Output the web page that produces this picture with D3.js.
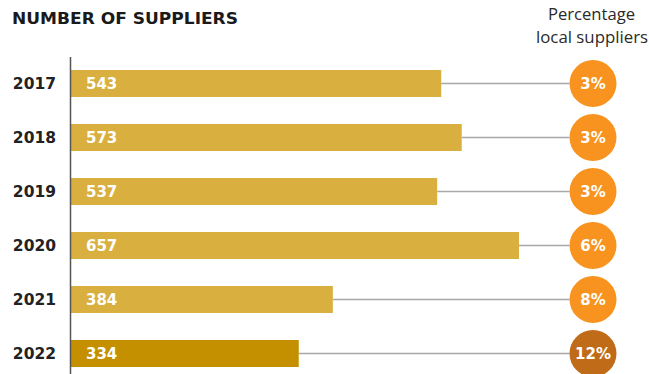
<!DOCTYPE html>
<html>
<head>
<meta charset="utf-8">
<script src="https://cdn.jsdelivr.net/npm/d3@7"></script>
<style>
  html, body { margin: 0; padding: 0; background: #fff; }
  svg { display: block; }
</style>
</head>
<body>
<svg id="chart" width="649" height="374"></svg>
<script>
// Supplier counts per year and share of local suppliers
const years = ["2017", "2018", "2019", "2020", "2021", "2022"];
const suppliers = [543, 573, 537, 657, 384, 334];
const localPct = [3, 3, 3, 6, 8, 12];

const svg = d3.select("#chart");
const boldFont = "'DejaVu Sans', sans-serif";
const plainFont = "'Open Sans', sans-serif";

const x0 = 71;
const x = d3.scaleLinear().domain([0, 657]).range([x0, 519]);
const y = d3.scaleBand().domain(years).range([56.5, 380.5]).paddingInner(0.5).paddingOuter(0.25);

const circleX = 593, radius = 23.5;

// Title and right-hand header
svg.append("text")
  .attr("x", 12).attr("y", 24)
  .attr("font-family", boldFont).attr("font-weight", 700)
  .attr("font-size", 15).attr("fill", "#1a1a1a")
  .attr("textLength", 226).attr("lengthAdjust", "spacingAndGlyphs")
  .text("NUMBER OF SUPPLIERS");

const head = svg.append("g")
  .attr("font-family", plainFont).attr("font-size", 16).attr("fill", "#2a2a2a");
head.append("text").attr("x", 548).attr("y", 20)
  .attr("textLength", 87).attr("lengthAdjust", "spacingAndGlyphs")
  .text("Percentage");
head.append("text").attr("x", 536).attr("y", 43)
  .attr("textLength", 112).attr("lengthAdjust", "spacingAndGlyphs")
  .text("local suppliers");

// Connector lines from bar ends to circles
svg.append("g").selectAll("line").data(years).join("line")
  .attr("x1", (d, i) => x(suppliers[i]))
  .attr("x2", circleX - radius)
  .attr("y1", d => y(d) + y.bandwidth() / 2)
  .attr("y2", d => y(d) + y.bandwidth() / 2)
  .attr("stroke", "#a8a8a8").attr("stroke-width", 1.6);

// Bars
svg.append("g").selectAll("rect").data(years).join("rect")
  .attr("x", x0)
  .attr("y", d => y(d))
  .attr("width", (d, i) => x(suppliers[i]) - x0)
  .attr("height", y.bandwidth())
  .attr("fill", (d, i) => i === years.length - 1 ? "#c49000" : "#d9af40");

// Bar value labels
svg.append("g").selectAll("text").data(years).join("text")
  .attr("x", 86)
  .attr("y", d => y(d) + y.bandwidth() / 2)
  .attr("dy", "0.36em")
  .attr("font-family", boldFont).attr("font-weight", 700)
  .attr("font-size", 15).attr("fill", "#fff")
  .text((d, i) => suppliers[i]);

// Year labels
svg.append("g").selectAll("text").data(years).join("text")
  .attr("x", 56)
  .attr("y", d => y(d) + y.bandwidth() / 2)
  .attr("dy", "0.36em")
  .attr("text-anchor", "end")
  .attr("font-family", boldFont).attr("font-weight", 700)
  .attr("font-size", 15.5).attr("fill", "#222")
  .text(d => d);

// Vertical axis line
svg.append("line")
  .attr("x1", 70.5).attr("x2", 70.5)
  .attr("y1", 57).attr("y2", 374)
  .attr("stroke", "#555").attr("stroke-width", 1.5);

// Local supplier share circles
const circ = svg.append("g").selectAll("g").data(years).join("g")
  .attr("transform", d => `translate(${circleX},${y(d) + y.bandwidth() / 2})`);
circ.append("circle")
  .attr("r", radius)
  .attr("fill", (d, i) => i === years.length - 1 ? "#bf6b18" : "#f7931e");
circ.append("text")
  .attr("text-anchor", "middle").attr("dy", "0.36em")
  .attr("font-family", boldFont).attr("font-weight", 700)
  .attr("font-size", 15).attr("fill", "#fff")
  .text((d, i) => localPct[i] + "%");
</script>
</body>
</html>
